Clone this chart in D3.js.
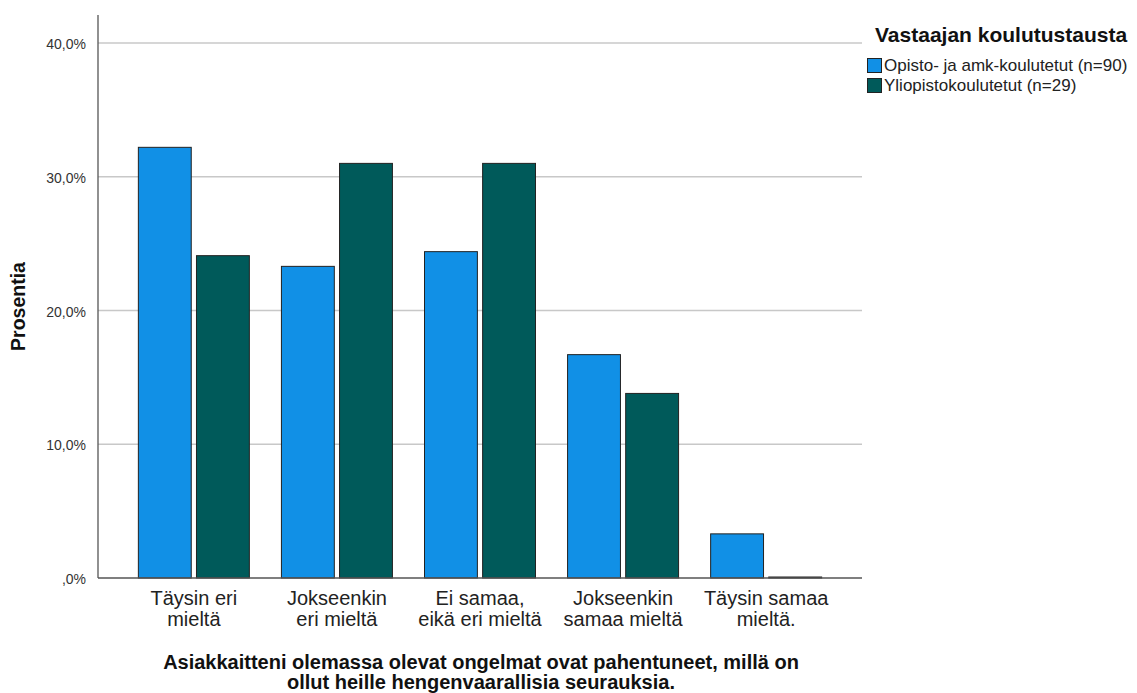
<!DOCTYPE html>
<html><head><meta charset="utf-8">
<script src="https://cdn.jsdelivr.net/npm/d3@7"></script>
<style>body{margin:0;background:#fff}svg{display:block;font-family:"Liberation Sans",Arial,sans-serif}</style>
</head><body>
<svg id="c" width="1137" height="693"></svg>
<script>
const categories = [["Täysin eri","mieltä"],["Jokseenkin","eri mieltä"],["Ei samaa,","eikä eri mieltä"],["Jokseenkin","samaa mieltä"],["Täysin samaa","mieltä."]];
const seriesNames = ["Opisto- ja amk-koulutetut (n=90)","Yliopistokoulutetut (n=29)"];
const opisto = [32.2, 23.3, 24.4, 16.7, 3.3];
const yliopisto = [24.1, 31.0, 31.0, 13.8, 0.0];
const yTicks = [0, 10, 20, 30, 40];
const colors = ["#1190e6", "#005a5a"];

const svg = d3.select("#c");
const L = 98, R = 862, T = 15, B = 578;
const catKeys = categories.map((d,i)=>i);
const x0 = d3.scaleBand().domain(catKeys).range([L, R]).paddingInner(0).paddingOuter(0.17);
const y = d3.scaleLinear().domain([0, 40]).range([B, 43]);
const fmt = v => (v === 0 ? ",0%" : v.toFixed(1).replace(".", ",") + "%");

// gridlines
svg.append("g").selectAll("line").data(yTicks.filter(v=>v>0)).join("line")
  .attr("x1", L).attr("x2", R).attr("y1", d=>y(d)).attr("y2", d=>y(d))
  .attr("stroke", "#c8c8c8").attr("stroke-width", 1.3);

// y axis
const yAxis = svg.append("g").attr("transform", `translate(${L},0)`)
  .call(d3.axisLeft(y).tickValues(yTicks).tickFormat(fmt).tickSize(0).tickPadding(12));
yAxis.select(".domain").remove();
yAxis.selectAll("text").attr("font-size", 14).attr("fill", "#333").attr("font-family", "Liberation Sans, Arial, sans-serif").attr("dy", "0.4em");
svg.append("line").attr("x1", L).attr("x2", L).attr("y1", T).attr("y2", B).attr("stroke", "#555").attr("stroke-width", 1.3);

// bars
const data = categories.map((c,i)=>({i, vals:[opisto[i], yliopisto[i]]}));
const x1 = d3.scaleBand().domain([0,1]).range([0, 111]).paddingInner(0.09);
const g = svg.append("g");
data.forEach(d=>{
  const cx = x0(d.i) + x0.bandwidth()/2;
  d.vals.forEach((v,s)=>{
    const h = Math.max(B - y(v), 1);
    g.append("rect")
      .attr("x", cx - 55.5 + x1(s)).attr("width", x1.bandwidth())
      .attr("y", B - h).attr("height", h)
      .attr("fill", colors[s]).attr("stroke", "#222").attr("stroke-width", 1);
  });
});

// x axis line
svg.append("line").attr("x1", L).attr("x2", R).attr("y1", B).attr("y2", B).attr("stroke", "#555").attr("stroke-width", 1.3);

// x tick labels
const xl = svg.append("g");
categories.forEach((lines,i)=>{
  const cx = x0(i) + x0.bandwidth()/2;
  const t = xl.append("text").attr("text-anchor","middle").attr("font-size",20).attr("fill","#222");
  lines.forEach((ln,k)=> t.append("tspan").attr("x", cx).attr("y", 605 + k*21).text(ln));
});

// axis titles
svg.append("text").attr("transform", `translate(25,${(T+B)/2+10}) rotate(-90)`).attr("text-anchor","middle")
  .attr("font-size",19.5).attr("font-weight","bold").attr("fill","#111").text("Prosentia");
const xt = svg.append("text").attr("text-anchor","middle").attr("font-size",20).attr("font-weight","bold").attr("fill","#111");
xt.append("tspan").attr("x",481).attr("y",669).text("Asiakkaitteni olemassa olevat ongelmat ovat pahentuneet, millä on");
xt.append("tspan").attr("x",481).attr("y",689).text("ollut heille hengenvaarallisia seurauksia.");

// legend
svg.append("text").attr("x",875).attr("y",42).attr("font-size",21).attr("font-weight","bold").attr("fill","#111").text("Vastaajan koulutustausta");
seriesNames.forEach((n,s)=>{
  svg.append("rect").attr("x",867.5).attr("y",58.5+s*20).attr("width",14).attr("height",14)
    .attr("fill",colors[s]).attr("stroke","#222").attr("stroke-width",1);
  svg.append("text").attr("x",884).attr("y",71+s*20).attr("font-size",17).attr("fill","#222").text(n);
});
</script>
</body></html>
